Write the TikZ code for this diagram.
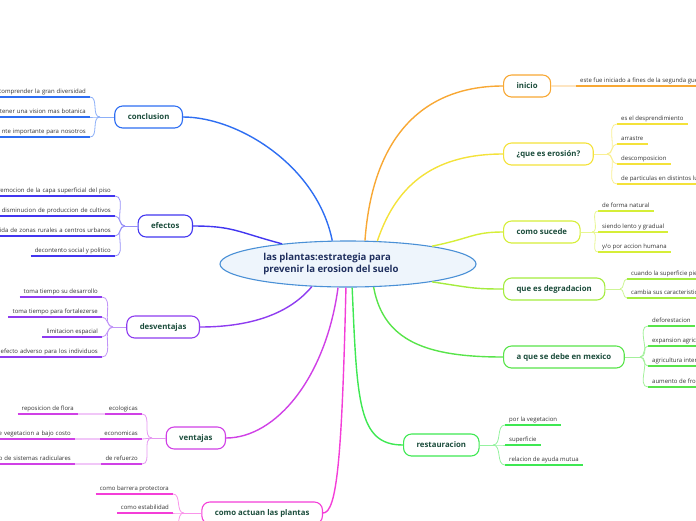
\documentclass[tikz,border=0pt]{standalone}
\usepackage{fontspec}
\setmainfont{Open Sans}
\usetikzlibrary{shapes.geometric}
\definecolor{cConcl}{HTML}{2E6EF2}
\definecolor{cEfect}{HTML}{4236F0}
\definecolor{cDesv}{HTML}{8E3CF0}
\definecolor{cVent}{HTML}{D040E6}
\definecolor{cAct}{HTML}{F43ED8}
\definecolor{cIni}{HTML}{F8A834}
\definecolor{cEros}{HTML}{F4E23A}
\definecolor{cSuc}{HTML}{D6EE38}
\definecolor{cDegr}{HTML}{A4EC3E}
\definecolor{cMex}{HTML}{58E44A}
\definecolor{cRest}{HTML}{3EE852}
\definecolor{rootfill}{HTML}{EEF5FC}
\definecolor{rootline}{HTML}{4A90D6}
\definecolor{roottxtc}{HTML}{1F2F5E}
\definecolor{brtxt}{HTML}{1C4D3C}
\definecolor{leaftxt}{HTML}{333333}
\newcommand\leaffont{\fontsize{6.0}{7}\selectfont}
\newcommand\brfont{\bfseries\fontsize{7.8}{9}\selectfont}
\begin{document}
\begin{tikzpicture}[x=1pt,y=-1pt,
 branch/.style={draw=#1, rounded corners=8pt, line width=1.1pt, fill=white, font=\brfont, text=brtxt, minimum height=22pt, inner xsep=13pt, inner ysep=0pt},
 ul/.style={draw=#1, line width=2pt},
 leafR/.style={font=\leaffont, text=leaftxt, anchor=south west, inner xsep=4pt, inner ysep=1.5pt, text height=4.5pt, text depth=1.5pt,
   append after command={(\tikzlastnode.south west) edge[ul=#1] (\tikzlastnode.south east)}},
 leafL/.style={font=\leaffont, text=leaftxt, anchor=south east, inner xsep=4pt, inner ysep=1.5pt, text height=4.5pt, text depth=1.5pt,
   append after command={(\tikzlastnode.south west) edge[ul=#1] (\tikzlastnode.south east)}},
 twig/.style={draw=#1!55!white, line width=0.8pt},
 stem/.style={draw=#1, line width=1.4pt},
]
\useasboundingbox (0,0) rectangle (696,520);
\clip (0,0) rectangle (696,520);

% root
\node[ellipse, draw=rootline, fill=rootfill, line width=1.1pt, minimum width=256pt, minimum height=46pt, inner sep=0pt] (root) at (348,264) {};
\node[align=left, font=\bfseries\fontsize{9.6}{13}\selectfont, text=roottxtc] (roottxt) at (331,264) {las plantas:estrategia para\\prevenir la erosion del suelo};

% branches
\node[branch=cConcl, anchor=east] (concl) at (183,117) {conclusion};
\node[branch=cEfect, anchor=east] (efect) at (193,226) {efectos};
\node[branch=cDesv, anchor=east] (desv) at (200,327) {desventajas};
\node[branch=cVent, anchor=east] (vent) at (226,438) {ventajas};
\node[branch=cAct, anchor=east] (actuan) at (323,513) {como actuan las plantas};
\node[branch=cIni, anchor=west] (inicio) at (503,86) {inicio};
\node[branch=cEros, anchor=west] (eros) at (503,154) {¿que es erosión?};
\node[branch=cSuc, anchor=west] (suc) at (503,232) {como sucede};
\node[branch=cDegr, anchor=west] (degr) at (503,289) {que es degradacion};
\node[branch=cMex, anchor=west] (mex) at (503,357) {a que se debe en mexico};
\node[branch=cRest, anchor=west] (rest) at (403,445) {restauracion};

% stems from root
\draw[stem=cConcl] (root.124) .. controls +(-15,-75) and +(55,0) .. (concl.east);
\draw[stem=cEfect] (root.163) .. controls +(-45,-12) and +(40,0) .. (efect.east);
\draw[stem=cDesv] (root.-148) .. controls +(-25,30) and +(45,0) .. (desv.east);
\draw[stem=cVent] (root.-113) .. controls +(-12,90) and +(50,0) .. (vent.east);
\draw[stem=cAct] (root.-95) .. controls +(-4,170) and +(14,0) .. (actuan.east);
\draw[stem=cIni] (root.54) .. controls +(8,-110) and +(-75,0) .. (inicio.west);
\draw[stem=cEros] (root.38) .. controls +(20,-60) and +(-65,0) .. (eros.west);
\draw[stem=cSuc] (root.12) .. controls +(40,-8) and +(-30,0) .. (suc.west);
\draw[stem=cDegr] (root.-12) .. controls +(40,6) and +(-30,0) .. (degr.west);
\draw[stem=cMex] (root.-42) .. controls +(10,55) and +(-75,0) .. (mex.west);
\draw[stem=cRest] (root.-80) .. controls +(5,115) and +(-45,0) .. (rest.west);

% ---------- conclusion
\node[leafL=cConcl, text width=92pt, align=right] (c1) at (90,97) {comprender la gran diversidad};
\node[leafL=cConcl, text width=92pt, align=right] (c2) at (90,117) {tener una vision mas botanica};
\node[leafL=cConcl, text width=92pt, align=right] (c3) at (90,137) {nte importante para nosotros};
\coordinate (jc) at (100,117);
\draw[twig=cConcl] (concl.west) -- (jc);
\foreach \n in {c1,c2,c3} \draw[twig=cConcl] (jc) to[out=180,in=0] (\n.south east);

% ---------- efectos
\node[leafL=cEfect, text width=120pt, align=right] (e1) at (115,196) {remocion de la capa superficial del piso};
\node[leafL=cEfect, text width=120pt, align=right] (e2) at (115,216) {disminucion de produccion de cultivos};
\node[leafL=cEfect, text width=120pt, align=right] (e3) at (115,236) {ida de zonas rurales a centros urbanos};
\node[leafL=cEfect] (e4) at (115,256) {decontento social y politico};
\coordinate (je) at (125,226);
\draw[twig=cEfect] (efect.west) -- (je);
\foreach \n in {e1,e2,e3,e4} \draw[twig=cEfect] (je) to[out=180,in=0] (\n.south east);

% ---------- desventajas
\node[leafL=cDesv] (d1) at (102,297) {toma tiempo su desarrollo};
\node[leafL=cDesv] (d2) at (102,317) {toma tiempo para fortalezerse};
\node[leafL=cDesv] (d3) at (102,337) {limitacion espacial};
\node[leafL=cDesv, text width=105pt, align=right] (d4) at (102,357) {efecto adverso para los individuos};
\coordinate (jd) at (113,327);
\draw[twig=cDesv] (desv.west) -- (jd);
\foreach \n in {d1,d2,d3,d4} \draw[twig=cDesv] (jd) to[out=180,in=0] (\n.south east);

% ---------- ventajas
\node[leafL=cVent] (v1) at (142,414) {ecologicas};
\node[leafL=cVent] (v2) at (142,439) {economicas};
\node[leafL=cVent] (v3) at (142,464) {de refuerzo};
\node[leafL=cVent] (w1) at (78,414) {reposicion de flora};
\node[leafL=cVent, text width=80pt, align=right] (w2) at (75,439) {e vegetacion a bajo costo};
\node[leafL=cVent, text width=80pt, align=right] (w3) at (75,464) {o de sistemas radiculares};
\draw[ul=cVent!30!white] (w1.south east) -- (v1.south west);
\draw[ul=cVent!30!white] (w2.south east) -- (v2.south west);
\draw[ul=cVent!30!white] (w3.south east) -- (v3.south west);
\coordinate (jv) at (152,438);
\draw[twig=cVent] (vent.west) -- (jv);
\foreach \n in {v1,v2,v3} \draw[twig=cVent] (jv) to[out=180,in=0] (\n.south east);

% ---------- como actuan
\node[leafL=cAct] (a1) at (173,494) {como barrera protectora};
\node[leafL=cAct] (a2) at (173,513) {como estabilidad};
\coordinate (a3) at (173,533);
\coordinate (ja) at (184,513);
\draw[twig=cAct] (actuan.west) -- (ja);
\foreach \n in {a1,a2} \draw[twig=cAct] (ja) to[out=180,in=0] (\n.south east);
\draw[twig=cAct] (ja) to[out=180,in=0] (a3);

% ---------- inicio
\node[leafR=cIni] (i1) at (576,86) {este fue iniciado a fines de la segunda guerra};
\draw[ul=cIni!30!white] (inicio.east) -- (i1.south west);

% ---------- que es erosion
\node[leafR=cEros] (r1) at (617,124) {es el desprendimiento};
\node[leafR=cEros] (r2) at (617,144) {arrastre};
\node[leafR=cEros] (r3) at (617,164) {descomposicion};
\node[leafR=cEros] (r4) at (617,184) {de particulas en distintos lugares};
\coordinate (jr) at (607,154);
\draw[twig=cEros] (eros.east) -- (jr);
\foreach \n in {r1,r2,r3,r4} \draw[twig=cEros] (jr) to[out=0,in=180] (\n.south west);

% ---------- como sucede
\node[leafR=cSuc] (s1) at (598,211) {de forma natural};
\node[leafR=cSuc] (s2) at (598,232) {siendo lento y gradual};
\node[leafR=cSuc] (s3) at (598,252) {y/o por accion humana};
\coordinate (js) at (592,232);
\draw[twig=cSuc] (suc.east) -- (js);
\foreach \n in {s1,s2,s3} \draw[twig=cSuc] (js) to[out=0,in=180] (\n.south west);

% ---------- que es degradacion
\node[leafR=cDegr] (g1) at (627,279) {cuando la superficie pierde};
\node[leafR=cDegr] (g2) at (627,298) {cambia sus caracteristicas};
\coordinate (jg) at (620,289);
\draw[twig=cDegr] (degr.east) -- (jg);
\foreach \n in {g1,g2} \draw[twig=cDegr] (jg) to[out=0,in=180] (\n.south west);

% ---------- a que se debe en mexico
\node[leafR=cMex] (m1) at (648,326) {deforestacion};
\node[leafR=cMex] (m2) at (648,346) {expansion agricola};
\node[leafR=cMex] (m3) at (648,366) {agricultura intensiva};
\node[leafR=cMex] (m4) at (648,387) {aumento de frontera};
\coordinate (jm) at (640,357);
\draw[twig=cMex] (mex.east) -- (jm);
\foreach \n in {m1,m2,m3,m4} \draw[twig=cMex] (jm) to[out=0,in=180] (\n.south west);

% ---------- restauracion
\node[leafR=cRest] (t1) at (505,425) {por la vegetacion};
\node[leafR=cRest] (t2) at (505,445) {superficie};
\node[leafR=cRest] (t3) at (505,465) {relacion de ayuda mutua};
\coordinate (jt) at (493,445);
\draw[twig=cRest] (rest.east) -- (jt);
\foreach \n in {t1,t2,t3} \draw[twig=cRest] (jt) to[out=0,in=180] (\n.south west);
\end{tikzpicture}
\end{document}
